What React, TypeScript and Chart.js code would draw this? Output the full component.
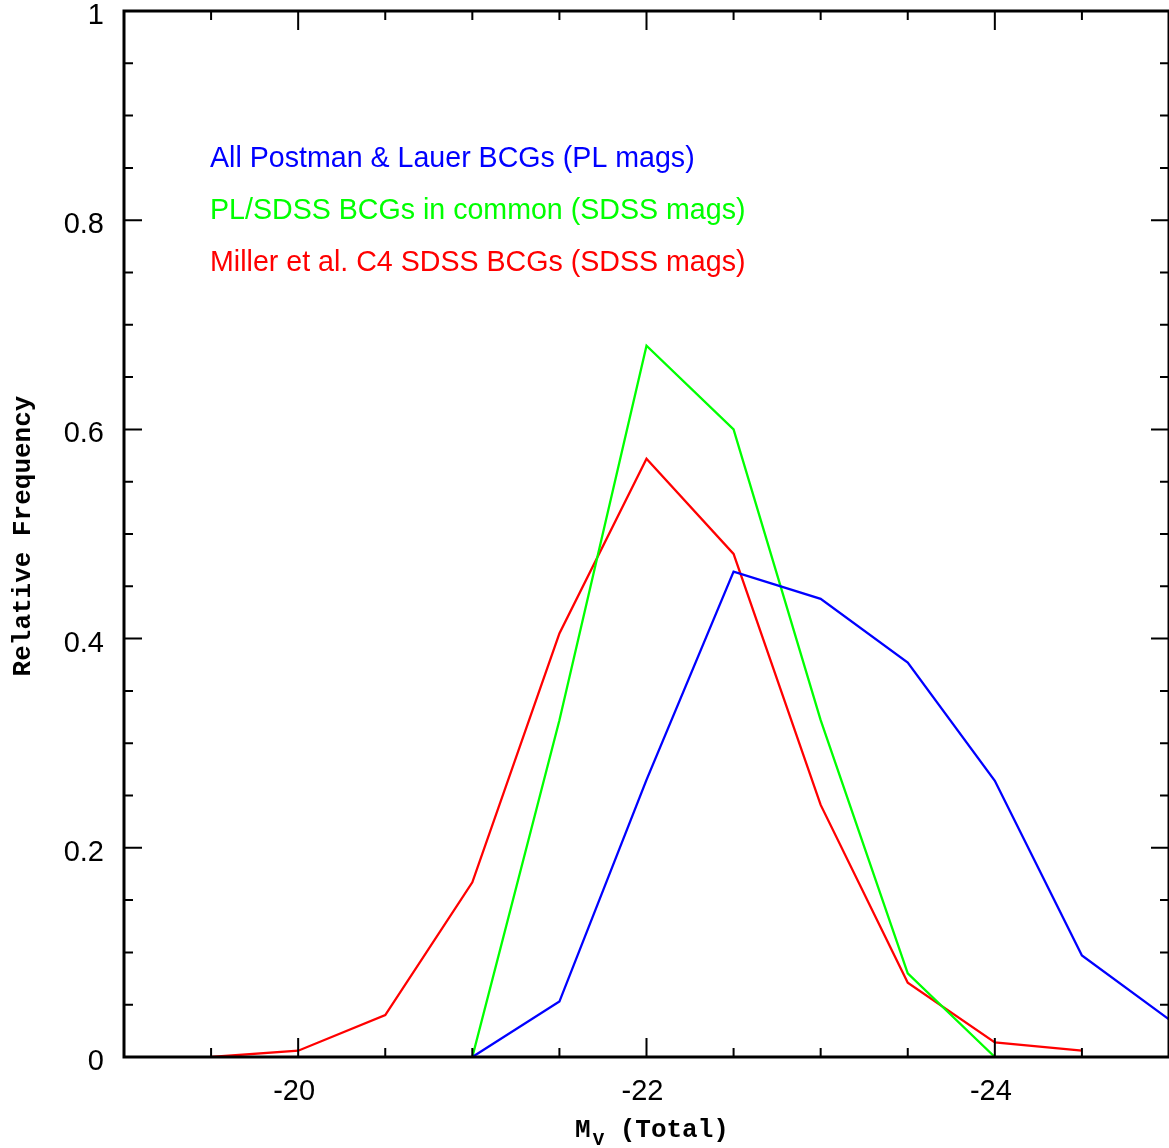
import { useEffect, useRef } from 'react';
import { Chart, registerables } from 'chart.js';

Chart.register(...registerables);

// ---- data ----
const magnitudes = [-19.5, -20, -20.5, -21, -21.5, -22, -22.5, -23, -23.5, -24, -24.5, -25];
const postmanLauerAll = [null, null, null, 0, 0.053, 0.265, 0.464, 0.438, 0.377, 0.264, 0.097, 0.036];
const plSdssCommon = [null, null, null, 0, 0.322, 0.68, 0.6, 0.322, 0.08, 0, null, null];
const millerC4 = [0, 0.006, 0.04, 0.167, 0.405, 0.572, 0.481, 0.241, 0.071, 0.014, 0.006, null];
const seriesLabels = [
  'All Postman & Lauer BCGs (PL mags)',
  'PL/SDSS BCGs in common (SDSS mags)',
  'Miller et al. C4 SDSS BCGs (SDSS mags)',
];
const seriesColors = ['#0000ff', '#00ff00', '#ff0000'];
const xTickLabels = [-20, -22, -24];
const yTickLabels = [0, 0.2, 0.4, 0.6, 0.8, 1];
const xRange = [-25, -19];
const yRange = [0, 1];
const xMinorStep = 0.5;
const yMinorStep = 0.05;
const yTitle = 'Relative Frequency';
const xTitleMain = 'M';
const xTitleSub = 'V';
const xTitleRest = ' (Total)';

const SANS = '"Liberation Sans", Arial, sans-serif';
const MONO = '"Liberation Mono", "Courier New", monospace';

const framePlugin = {
  id: 'frameTicks',
  afterDraw(chart: any) {
    const { ctx, chartArea: a, scales } = chart;
    const xs = scales.x;
    const ys = scales.y;
    ctx.save();
    ctx.strokeStyle = '#000';
    // ticks
    ctx.lineWidth = 2;
    const drawX = (v: number, len: number) => {
      const px = xs.getPixelForValue(v);
      ctx.beginPath();
      ctx.moveTo(px, a.bottom);
      ctx.lineTo(px, a.bottom - len);
      ctx.moveTo(px, a.top);
      ctx.lineTo(px, a.top + len);
      ctx.stroke();
    };
    const drawY = (v: number, len: number) => {
      const py = ys.getPixelForValue(v);
      ctx.beginPath();
      ctx.moveTo(a.left, py);
      ctx.lineTo(a.left + len, py);
      ctx.moveTo(a.right, py);
      ctx.lineTo(a.right - len, py);
      ctx.stroke();
    };
    const nx = Math.round((xRange[1] - xRange[0]) / xMinorStep);
    for (let i = 1; i < nx; i++) {
      const v = xRange[0] + i * xMinorStep;
      const major = xTickLabels.some((t) => Math.abs(t - v) < 1e-6);
      drawX(v, major ? 19 : 9);
    }
    const ny = Math.round((yRange[1] - yRange[0]) / yMinorStep);
    for (let i = 1; i < ny; i++) {
      const v = yRange[0] + i * yMinorStep;
      const major = yTickLabels.some((t) => Math.abs(t - v) < 1e-6);
      drawY(v, major ? 18 : 9);
    }
    // frame
    ctx.lineWidth = 3;
    ctx.strokeRect(a.left, a.top, a.right - a.left, a.bottom - a.top);

    // legend text
    ctx.font = `28.6px ${SANS}`;
    ctx.textAlign = 'left';
    ctx.textBaseline = 'alphabetic';
    seriesLabels.forEach((lbl, i) => {
      ctx.fillStyle = seriesColors[i];
      ctx.fillText(lbl, a.left + 86, a.top + 156 + i * 52);
    });

    // y title
    ctx.fillStyle = '#000';
    ctx.font = `bold 26px ${MONO}`;
    ctx.save();
    ctx.translate(30, (a.top + a.bottom) / 2 + 2);
    ctx.rotate(-Math.PI / 2);
    ctx.textAlign = 'center';
    ctx.fillText(yTitle, 0, 0);
    ctx.restore();

    // x title with subscript
    const cx = 652;
    ctx.font = `bold 26px ${MONO}`;
    const wM = ctx.measureText(xTitleMain).width;
    const wR = ctx.measureText(xTitleRest).width;
    ctx.font = `bold 19px ${MONO}`;
    const wV = ctx.measureText(xTitleSub).width;
    const total = wM + wV + wR + 2;
    let x0 = cx - total / 2;
    const base = 1137;
    ctx.textAlign = 'left';
    ctx.font = `bold 26px ${MONO}`;
    ctx.fillText(xTitleMain, x0, base);
    x0 += wM + 2;
    ctx.font = `bold 19px ${MONO}`;
    ctx.fillText(xTitleSub, x0, base + 8);
    x0 += wV;
    ctx.font = `bold 26px ${MONO}`;
    ctx.fillText(xTitleRest, x0, base);
    ctx.restore();
  },
};

export default function App() {
  const ref = useRef<HTMLCanvasElement | null>(null);
  useEffect(() => {
    if (!ref.current) return;
    const series = [postmanLauerAll, plSdssCommon, millerC4];
    const chart = new Chart(ref.current, {
      type: 'line',
      data: {
        datasets: series.map((vals, i) => ({
          label: seriesLabels[i],
          data: magnitudes
            .map((m, j) => ({ x: m, y: vals[j] }))
            .filter((p) => p.y !== null) as any,
          borderColor: seriesColors[i],
          backgroundColor: seriesColors[i],
          borderWidth: 2.3,
          pointRadius: 0,
          tension: 0,
          fill: false,
        })),
      },
      options: {
        animation: false,
        responsive: true,
        maintainAspectRatio: false,
        layout: { padding: { top: 11, right: -1, left: 0, bottom: 0 } },
        plugins: { legend: { display: false }, tooltip: { enabled: false } },
        scales: {
          x: {
            type: 'linear',
            min: xRange[0],
            max: xRange[1],
            reverse: true,
            grid: { display: false, drawTicks: false },
            border: { display: false },
            ticks: {
              font: { family: SANS, size: 29 },
              color: '#000',
              padding: 18,
              labelOffset: -4,
              maxRotation: 0,
              autoSkip: false,
              callback: (v: any) => String(v),
            },
            afterBuildTicks: (s: any) => {
              s.ticks = xTickLabels.map((v) => ({ value: v }));
            },
            afterFit: (s: any) => {
              s.height = 91;
              s.paddingLeft = 0;
              s.paddingRight = 0;
            },
          },
          y: {
            type: 'linear',
            min: yRange[0],
            max: yRange[1],
            grid: { display: false, drawTicks: false },
            border: { display: false },
            ticks: {
              font: { family: SANS, size: 29 },
              color: '#000',
              padding: 20,
              labelOffset: 5,
              autoSkip: false,
              callback: (v: any) => String(v),
            },
            afterBuildTicks: (s: any) => {
              s.ticks = yTickLabels.map((v) => ({ value: v }));
            },
            afterFit: (s: any) => {
              s.width = 124;
              s.paddingTop = 0;
              s.paddingBottom = 0;
            },
          },
        },
      },
      plugins: [framePlugin],
    });
    return () => chart.destroy();
  }, []);
  return (
    <div style={{ position: 'absolute', left: 0, top: 0, width: 1169, height: 1148, background: '#fff', overflow: 'hidden' }}>
      <canvas ref={ref} />
    </div>
  );
}
